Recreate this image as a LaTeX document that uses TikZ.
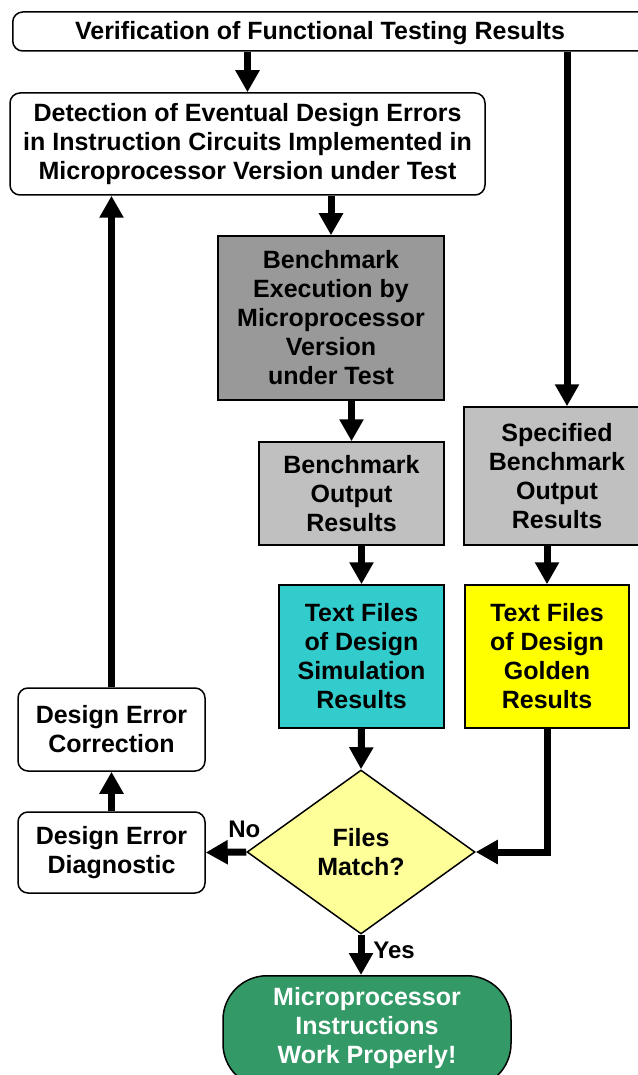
\documentclass[tikz,border=0pt]{standalone}
\usepackage{fontspec}
\setmainfont{Liberation Sans}
\usetikzlibrary{arrows.meta,shapes.geometric}
\definecolor{execgray}{HTML}{999999}
\definecolor{outgray}{HTML}{C0C0C0}
\definecolor{simcyan}{HTML}{33CCCC}
\definecolor{goldyellow}{HTML}{FFFF00}
\definecolor{decyellow}{HTML}{FFFF99}
\definecolor{okgreen}{HTML}{339966}
\begin{document}
\begin{tikzpicture}[x=1pt,y=-1pt,
  txt/.style={font=\fontsize{25}{29}\selectfont\bfseries, align=center},
  box/.style={txt, draw=black, line width=1.5pt, inner sep=0pt},
  rbox/.style={box, rounded corners=10pt},
  sbox/.style={box},
  flow/.style={line width=7pt, -{Triangle[length=22pt,width=23pt]}},
  tag/.style={font=\fontsize{24}{28}\selectfont\bfseries}
]
\useasboundingbox (0,0) rectangle (637,1075);

% header bar (runs off the right edge) and its title
\node[rbox, minimum width=660pt, minimum height=39pt, anchor=west] (top) at (12,31.5) {};
\node[txt] (toptext) at (320,33) {Verification of Functional Testing Results};

% main column
\node[rbox, minimum width=475pt, minimum height=102pt] (det) at (247.5,144)
  {Detection of Eventual Design Errors\\in Instruction Circuits Implemented in\\Microprocessor Version under Test};
\node[sbox, fill=execgray, minimum width=226pt, minimum height=164pt] (bex) at (331,318)
  {Benchmark\\Execution by\\Microprocessor\\Version\\under Test};
\node[sbox, fill=outgray, minimum width=185pt, minimum height=103pt] (bout) at (351.5,493.5)
  {Benchmark\\Output\\Results};
\node[sbox, fill=outgray, minimum width=186pt, minimum height=138pt] (spec) at (557,476)
  {Specified\\Benchmark\\Output\\Results};
\node[sbox, fill=simcyan, minimum width=165pt, minimum height=143pt] (sim) at (361.5,656.5)
  {Text Files\\of Design\\Simulation\\Results};
\node[sbox, fill=goldyellow, minimum width=164pt, minimum height=143pt] (gold) at (547,656.5)
  {Text Files\\of Design\\Golden\\Results};
\node[diamond, box, fill=decyellow, minimum width=228pt, minimum height=164pt] (dia) at (361,852)
  {Files\\Match?};
\node[rbox, minimum width=187pt, minimum height=81pt] (diag) at (111.5,852.5)
  {Design Error\\Diagnostic};
\node[rbox, minimum width=187pt, minimum height=83pt] (corr) at (111.5,729.5)
  {Design Error\\Correction};
% terminal: runs past the bottom edge; extra depth lifts the text a little
\node[box, fill=okgreen, text=white, rounded corners=44pt, minimum width=288pt, minimum height=112pt,
      text depth=12pt, anchor=north] (term) at (367,975)
  {Microprocessor\\Instructions\\Work Properly!};

% connectors
\coordinate (rx) at (567,0);
\draw[flow] (top.south -| det.north) -- (det.north);
\draw[flow] (top.south -| rx) -- (spec.north -| rx);
\draw[flow] (det.south -| bex.north) -- (bex.north);
\draw[flow] (bex.south -| bout.north) -- (bout.north);
\draw[flow] (bout.south -| sim.north) -- (sim.north);
\draw[flow] (spec.south -| gold.north) -- (gold.north);
\draw[flow] (sim.south) -- (dia.north);
\draw[flow] (gold.south) |- (dia.east);
\draw[flow] (dia.west) -- (diag.east);
\draw[flow] (diag.north) -- (corr.south);
\draw[flow] (corr.north) -- (corr.north |- det.south);
\draw[flow] (dia.south) -- (dia.south |- term.north);

% branch labels
\node[tag] (no) at ([xshift=-2pt,yshift=23pt]dia.west) {No};
\node[tag] (yes) at ([xshift=33pt,yshift=-16pt]dia.south) {Yes};
\end{tikzpicture}
\end{document}
